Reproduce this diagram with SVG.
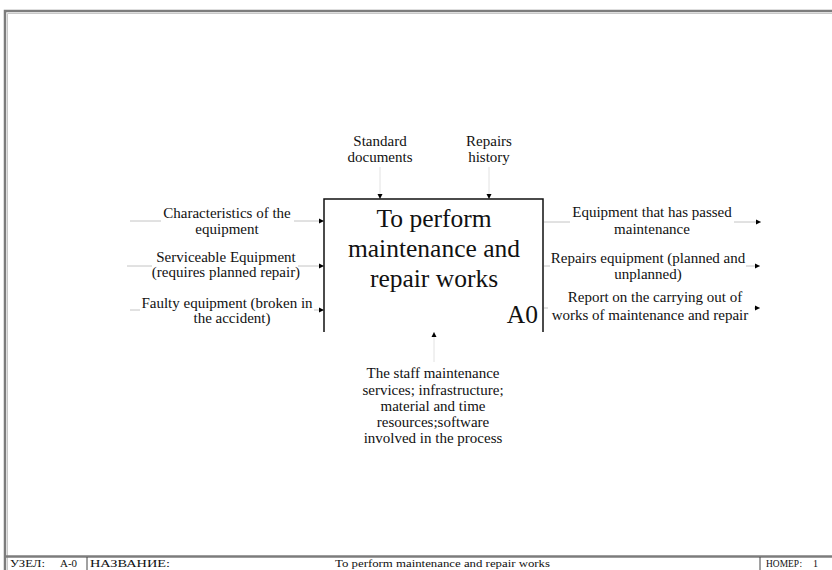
<svg xmlns="http://www.w3.org/2000/svg" width="832" height="570" viewBox="0 0 832 570">
<style>
  .lbl { font-family: "Liberation Serif", "Times New Roman", serif; font-size: 15px; fill: #111; text-anchor: middle; }
  .title { font-family: "Liberation Serif", "Times New Roman", serif; font-size: 25.5px; fill: #111; text-anchor: middle; }
  .foot { font-family: "Liberation Serif", "Times New Roman", serif; font-size: 10px; fill: #111; }
  .conn { stroke: #c4c4c4; stroke-width: 1; fill: none; }
  .tip { stroke: #c4c4c4; stroke-width: 1; fill: none; marker-end: url(#arrow); }
  .vtip { stroke: #e2e2e2; stroke-width: 1; fill: none; marker-end: url(#arrow); }
  .frame { stroke: #7c7c7c; stroke-width: 2.5; fill: none; }
  .frame2 { stroke: #c8c8c8; stroke-width: 1; fill: none; }
</style>
<defs>
  <marker id="arrow" markerUnits="userSpaceOnUse" markerWidth="6" markerHeight="6" refX="5" refY="3" orient="auto">
    <path d="M0,0.5 L5,3 L0,5.5 Z" fill="#000"/>
  </marker>
</defs>
<rect width="832" height="570" fill="#fff"/>

<g id="frame">
  <path class="frame" d="M5,570 V11 H832"/>
  <path class="frame2" d="M7.5,570 V13.5 H832"/>
  <path class="frame" d="M5,556.5 H832" stroke-width="2"/>
  <line x1="87" y1="557" x2="87" y2="570" stroke="#444" stroke-width="1"/>
  <line x1="760" y1="557" x2="760" y2="570" stroke="#444" stroke-width="1"/>
  <text class="foot" x="10" y="567" textLength="35" lengthAdjust="spacingAndGlyphs">УЗЕЛ:</text>
  <text class="foot" x="60" y="567" textLength="17" lengthAdjust="spacingAndGlyphs">A-0</text>
  <text class="foot" x="90" y="567" textLength="80" lengthAdjust="spacingAndGlyphs">НАЗВАНИЕ:</text>
  <text class="foot" x="335" y="567" textLength="215" lengthAdjust="spacingAndGlyphs">To perform maintenance and repair works</text>
  <text class="foot" x="766" y="567" textLength="36" lengthAdjust="spacingAndGlyphs">НОМЕР:</text>
  <text class="foot" x="813" y="567">1</text>
</g>

<g id="connectors">
  <!-- inputs -->
  <line class="conn" x1="130" y1="221" x2="161" y2="221"/>
  <line class="tip" x1="294" y1="221" x2="324" y2="221"/>
  <line class="conn" x1="127" y1="266" x2="152" y2="266"/>
  <line class="tip" x1="298" y1="266" x2="324" y2="266"/>
  <line class="conn" x1="130" y1="310" x2="140" y2="310"/>
  <line class="tip" x1="314" y1="310" x2="324" y2="310"/>
  <!-- outputs -->
  <line class="conn" x1="544" y1="222" x2="570" y2="222"/>
  <line class="tip" x1="734" y1="222" x2="761" y2="222"/>
  <line class="conn" x1="544" y1="266" x2="550" y2="266"/>
  <line class="tip" x1="746" y1="266" x2="760" y2="266"/>
  <line class="conn" x1="544" y1="308" x2="548" y2="308"/>
  <line class="tip" x1="754" y1="308" x2="760" y2="308"/>
  <!-- controls -->
  <line class="vtip" x1="380" y1="167" x2="380" y2="199"/>
  <line class="vtip" x1="489" y1="167" x2="489" y2="199"/>
  <!-- mechanism -->
  <line class="vtip" x1="434" y1="362" x2="434" y2="332"/>
</g>

<g id="A0">
  <path d="M324,332 V199 H543 V332" fill="none" stroke="#111" stroke-width="1.5"/>
  <text class="title" x="434" y="227">To perform</text>
  <text class="title" x="434" y="257">maintenance and</text>
  <text class="title" x="434" y="287">repair works</text>
  <text class="title" x="538" y="323" style="text-anchor:end" font-size="25">A0</text>
</g>

<g id="label-standard-documents">
  <text class="lbl" x="380" y="146">Standard</text>
  <text class="lbl" x="380" y="162">documents</text>
</g>
<g id="label-repairs-history">
  <text class="lbl" x="489" y="146">Repairs</text>
  <text class="lbl" x="489" y="162">history</text>
</g>

<g id="label-characteristics">
  <text class="lbl" x="227" y="218">Characteristics of the</text>
  <text class="lbl" x="227" y="234">equipment</text>
</g>
<g id="label-serviceable">
  <text class="lbl" x="226" y="262">Serviceable Equipment</text>
  <text class="lbl" x="226" y="277">(requires planned repair)</text>
</g>
<g id="label-faulty">
  <text class="lbl" x="227" y="308">Faulty equipment (broken in</text>
  <text class="lbl" x="232" y="323">the accident)</text>
</g>

<g id="label-passed">
  <text class="lbl" x="652" y="217">Equipment that has passed</text>
  <text class="lbl" x="652" y="234">maintenance</text>
</g>
<g id="label-repairs-equipment">
  <text class="lbl" x="648" y="263">Repairs equipment (planned and</text>
  <text class="lbl" x="648" y="279">unplanned)</text>
</g>
<g id="label-report">
  <text class="lbl" x="655" y="302">Report on the carrying out of</text>
  <text class="lbl" x="650" y="320">works of maintenance and repair</text>
</g>

<g id="label-mechanism">
  <text class="lbl" x="433" y="378">The staff maintenance</text>
  <text class="lbl" x="433" y="395">services; infrastructure;</text>
  <text class="lbl" x="433" y="411">material and time</text>
  <text class="lbl" x="433" y="427">resources;software</text>
  <text class="lbl" x="433" y="443">involved in the process</text>
</g>
</svg>
